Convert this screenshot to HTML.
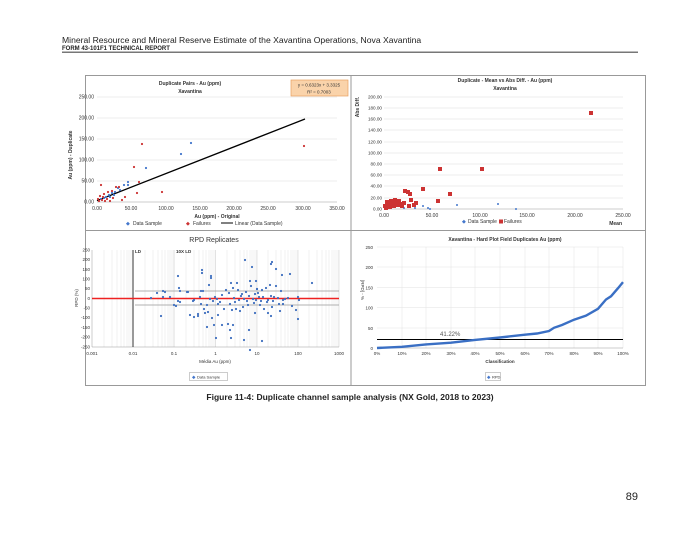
<!DOCTYPE html>
<html><head><meta charset="utf-8"><style>
body{margin:0;background:#fff;width:700px;height:541px;overflow:hidden;font-family:"Liberation Sans",sans-serif}
svg{position:absolute;left:0;top:0}
</style></head><body>
<svg width="700" height="541" viewBox="0 0 700 541" font-family="Liberation Sans, sans-serif">
<text x="62" y="43" font-size="8.6" fill="#222">Mineral Resource and Mineral Reserve Estimate of the Xavantina Operations, Nova Xavantina</text>
<text x="62" y="50" font-size="6" font-weight="bold" fill="#222">FORM 43-101F1 TECHNICAL REPORT</text>
<rect x="62" y="51.5" width="576" height="1.5" fill="#777"/>

<rect x="85.5" y="75.5" width="560" height="310" fill="#fff" stroke="#999"/>
<line x1="351" y1="76" x2="351" y2="385" stroke="#999"/>
<line x1="86" y1="230.5" x2="645" y2="230.5" stroke="#999"/>

<!-- Chart 1 -->
<g font-size="5" fill="#333">
<text x="190" y="85" font-weight="bold" text-anchor="middle">Duplicate Pairs - Au (ppm)</text>
<text x="190" y="93" font-weight="bold" text-anchor="middle">Xavantina</text>
<rect x="291" y="80" width="57" height="16" fill="#fad3aa" stroke="#e8a060" stroke-width="0.7"/>
<text x="319" y="86.5" text-anchor="middle" font-size="4.5">y = 0.6323x + 3.3325</text>
<text x="319" y="93.5" text-anchor="middle" font-size="4.5">R² = 0.7003</text>
<g stroke="#ddd" stroke-width="0.6">
<line x1="97" y1="97" x2="337" y2="97"/><line x1="97" y1="118" x2="337" y2="118"/><line x1="97" y1="139" x2="337" y2="139"/><line x1="97" y1="160" x2="337" y2="160"/><line x1="97" y1="181" x2="337" y2="181"/>
</g>
<line x1="97" y1="202" x2="337" y2="202" stroke="#999" stroke-width="0.6"/>
<g text-anchor="end"><text x="94" y="98.5">250.00</text><text x="94" y="119.5">200.00</text><text x="94" y="140.5">150.00</text><text x="94" y="161.5">100.00</text><text x="94" y="182.5">50.00</text><text x="94" y="203.5">0.00</text></g>
<g text-anchor="middle"><text x="97" y="210">0.00</text><text x="131" y="210">50.00</text><text x="166" y="210">100.00</text><text x="200" y="210">150.00</text><text x="234" y="210">200.00</text><text x="268" y="210">250.00</text><text x="303" y="210">300.00</text><text x="337" y="210">350.00</text></g>
<text x="217" y="218" text-anchor="middle" font-weight="bold">Au (ppm) - Original</text>
<text transform="translate(72,155) rotate(-90)" text-anchor="middle" font-weight="bold">Au (ppm) - Duplicate</text>
<text x="126" y="225" fill="#4477cc">◆</text><text x="133" y="225">Data Sample</text>
<text x="186" y="225" fill="#cc3333">◆</text><text x="193" y="225">Failures</text>
<line x1="221" y1="223" x2="233" y2="223" stroke="#000" stroke-width="1"/><text x="235" y="225">Linear (Data Sample)</text>
<line x1="97" y1="200.6" x2="305" y2="119" stroke="#000" stroke-width="1.3"/>
<g fill="#4477cc">
<circle cx="191" cy="143" r="1.1"/><circle cx="181" cy="154" r="1.1"/><circle cx="146" cy="168" r="1.1"/><circle cx="128" cy="182" r="1.1"/><circle cx="124" cy="185" r="1.1"/><circle cx="128" cy="185" r="1.1"/><circle cx="118" cy="188" r="1.1"/><circle cx="115" cy="192" r="1.1"/><circle cx="112" cy="193" r="1.1"/><circle cx="120" cy="190" r="1.1"/><circle cx="109" cy="195" r="1.1"/><circle cx="106" cy="197" r="1.1"/><circle cx="104" cy="198" r="1.1"/><circle cx="101" cy="199" r="1.1"/><circle cx="110" cy="197" r="1.1"/><circle cx="114" cy="195" r="1.1"/>
</g>
<g fill="#cc3333">
<circle cx="142" cy="144" r="1.1"/><circle cx="304" cy="146" r="1.1"/><circle cx="134" cy="167" r="1.1"/><circle cx="101" cy="185" r="1.1"/><circle cx="139" cy="182" r="1.1"/><circle cx="162" cy="192" r="1.1"/><circle cx="137" cy="193" r="1.1"/><circle cx="122" cy="200" r="1.1"/><circle cx="125" cy="197" r="1.1"/><circle cx="116" cy="187" r="1.1"/><circle cx="119" cy="187" r="1.1"/><circle cx="112" cy="191" r="1.1"/><circle cx="108" cy="192" r="1.1"/><circle cx="104" cy="194" r="1.1"/><circle cx="100" cy="196" r="1.1"/><circle cx="98" cy="199" r="1.1"/><circle cx="99" cy="201" r="1.1"/><circle cx="102" cy="200" r="1.1"/><circle cx="105" cy="201" r="1.1"/><circle cx="107" cy="199" r="1.1"/><circle cx="110" cy="201" r="1.1"/><circle cx="103" cy="197" r="1.1"/><circle cx="113" cy="198" r="1.1"/>
</g>
</g>

<!-- Chart 2 -->
<g font-size="5" fill="#333">
<text x="505" y="82" font-weight="bold" text-anchor="middle">Duplicate - Mean vs Abs Diff. - Au (ppm)</text>
<text x="505" y="90" font-weight="bold" text-anchor="middle">Xavantina</text>
<g stroke="#ddd" stroke-width="0.6">
<line x1="384" y1="97" x2="623" y2="97"/><line x1="384" y1="108" x2="623" y2="108"/><line x1="384" y1="119" x2="623" y2="119"/><line x1="384" y1="130" x2="623" y2="130"/><line x1="384" y1="142" x2="623" y2="142"/><line x1="384" y1="153" x2="623" y2="153"/><line x1="384" y1="164" x2="623" y2="164"/><line x1="384" y1="175" x2="623" y2="175"/><line x1="384" y1="186" x2="623" y2="186"/><line x1="384" y1="198" x2="623" y2="198"/>
</g>
<line x1="384" y1="209" x2="623" y2="209" stroke="#999" stroke-width="0.6"/>
<g text-anchor="end" font-size="4.6"><text x="382" y="98.5">200.00</text><text x="382" y="109.5">180.00</text><text x="382" y="120.5">160.00</text><text x="382" y="131.5">140.00</text><text x="382" y="143.5">120.00</text><text x="382" y="154.5">100.00</text><text x="382" y="165.5">80.00</text><text x="382" y="176.5">60.00</text><text x="382" y="187.5">40.00</text><text x="382" y="199.5">20.00</text><text x="382" y="210.5">0.00</text></g>
<g text-anchor="middle"><text x="384" y="217">0.00</text><text x="432" y="217">50.00</text><text x="480" y="217">100.00</text><text x="527" y="217">150.00</text><text x="575" y="217">200.00</text><text x="623" y="217">250.00</text></g>
<text transform="translate(359,107) rotate(-90)" text-anchor="middle" font-weight="bold">Abs Diff.</text>
<text x="462" y="223" fill="#4477cc">◆</text><text x="468" y="223">Data Sample</text>
<rect x="499" y="219.5" width="4" height="4" fill="#cc3333"/><text x="504" y="223">Failures</text>
<text x="622" y="225" text-anchor="end" font-weight="bold">Mean</text>
<g fill="#4477cc">
<circle cx="457" cy="205" r="1"/><circle cx="498" cy="204" r="1"/><circle cx="516" cy="209" r="1"/><circle cx="423" cy="206" r="1"/><circle cx="428" cy="208" r="1"/><circle cx="430" cy="209" r="1"/><circle cx="415" cy="208" r="1"/><circle cx="410" cy="207" r="1"/><circle cx="404" cy="208" r="1"/>
</g>
<g fill="#cc3333">
<rect x="589" y="111" width="4" height="4"/><rect x="438" y="167" width="4" height="4"/><rect x="480" y="167" width="4" height="4"/><rect x="421" y="187" width="4" height="4"/><rect x="448" y="192" width="4" height="4"/><rect x="436" y="199" width="4" height="4"/><rect x="403" y="189" width="4" height="4"/><rect x="406" y="190" width="4" height="4"/><rect x="408" y="192" width="4" height="4"/><rect x="412" y="203" width="4" height="4"/><rect x="407" y="204" width="4" height="4"/><rect x="414" y="201" width="4" height="4"/><rect x="409" y="198" width="4" height="4"/>
<rect x="384" y="206" width="4" height="4"/><rect x="386" y="203" width="4" height="4"/><rect x="388" y="205" width="4" height="4"/><rect x="390" y="202" width="4" height="4"/><rect x="392" y="204" width="4" height="4"/><rect x="394" y="201" width="4" height="4"/><rect x="396" y="203" width="4" height="4"/><rect x="398" y="202" width="4" height="4"/><rect x="400" y="204" width="4" height="4"/><rect x="402" y="201" width="4" height="4"/><rect x="385" y="200" width="4" height="4"/><rect x="389" y="199" width="4" height="4"/><rect x="393" y="198" width="4" height="4"/><rect x="397" y="199" width="4" height="4"/><rect x="383" y="204" width="4" height="4"/>
</g>
</g>

<!-- Chart 3 -->
<g font-size="4.5" fill="#333">
<text x="214" y="242" font-size="7" text-anchor="middle" fill="#333">RPD Replicates</text>
<g stroke="#e4e4e4" stroke-width="0.5">
<line x1="104" y1="250" x2="104" y2="347"/><line x1="112" y1="250" x2="112" y2="347"/><line x1="117" y1="250" x2="117" y2="347"/><line x1="121" y1="250" x2="121" y2="347"/><line x1="124" y1="250" x2="124" y2="347"/><line x1="127" y1="250" x2="127" y2="347"/><line x1="129" y1="250" x2="129" y2="347"/><line x1="131" y1="250" x2="131" y2="347"/>
<line x1="145" y1="250" x2="145" y2="347"/><line x1="153" y1="250" x2="153" y2="347"/><line x1="158" y1="250" x2="158" y2="347"/><line x1="162" y1="250" x2="162" y2="347"/><line x1="165" y1="250" x2="165" y2="347"/><line x1="168" y1="250" x2="168" y2="347"/><line x1="170" y1="250" x2="170" y2="347"/><line x1="172" y1="250" x2="172" y2="347"/>
<line x1="186" y1="250" x2="186" y2="347"/><line x1="194" y1="250" x2="194" y2="347"/><line x1="199" y1="250" x2="199" y2="347"/><line x1="203" y1="250" x2="203" y2="347"/><line x1="206" y1="250" x2="206" y2="347"/><line x1="209" y1="250" x2="209" y2="347"/><line x1="211" y1="250" x2="211" y2="347"/><line x1="213" y1="250" x2="213" y2="347"/><line x1="215" y1="250" x2="215" y2="347"/>
<line x1="227" y1="250" x2="227" y2="347"/><line x1="235" y1="250" x2="235" y2="347"/><line x1="240" y1="250" x2="240" y2="347"/><line x1="244" y1="250" x2="244" y2="347"/><line x1="247" y1="250" x2="247" y2="347"/><line x1="250" y1="250" x2="250" y2="347"/><line x1="252" y1="250" x2="252" y2="347"/><line x1="254" y1="250" x2="254" y2="347"/><line x1="256" y1="250" x2="256" y2="347"/>
<line x1="268" y1="250" x2="268" y2="347"/><line x1="276" y1="250" x2="276" y2="347"/><line x1="281" y1="250" x2="281" y2="347"/><line x1="285" y1="250" x2="285" y2="347"/><line x1="288" y1="250" x2="288" y2="347"/><line x1="291" y1="250" x2="291" y2="347"/><line x1="293" y1="250" x2="293" y2="347"/><line x1="295" y1="250" x2="295" y2="347"/><line x1="297" y1="250" x2="297" y2="347"/>
<line x1="309" y1="250" x2="309" y2="347"/><line x1="317" y1="250" x2="317" y2="347"/><line x1="322" y1="250" x2="322" y2="347"/><line x1="326" y1="250" x2="326" y2="347"/><line x1="329" y1="250" x2="329" y2="347"/><line x1="332" y1="250" x2="332" y2="347"/><line x1="334" y1="250" x2="334" y2="347"/><line x1="336" y1="250" x2="336" y2="347"/><line x1="338" y1="250" x2="338" y2="347"/>
<line x1="174" y1="250" x2="174" y2="347" stroke="#bbb"/><line x1="215.5" y1="250" x2="215.5" y2="347" stroke="#ccc"/><line x1="257" y1="250" x2="257" y2="347" stroke="#ccc"/><line x1="298" y1="250" x2="298" y2="347" stroke="#ccc"/><line x1="339" y1="250" x2="339" y2="347" stroke="#ccc"/>
</g>
<line x1="92" y1="347" x2="339" y2="347" stroke="#999" stroke-width="0.5"/>
<line x1="92" y1="250" x2="92" y2="347" stroke="#999" stroke-width="0.5"/>
<line x1="133" y1="250" x2="133" y2="347" stroke="#333" stroke-width="1"/>
<text x="135" y="253" font-weight="bold">LD</text><text x="176" y="253" font-weight="bold">10X LD</text>
<line x1="135" y1="291" x2="339" y2="291" stroke="#999" stroke-width="0.7"/>
<line x1="135" y1="305" x2="339" y2="305" stroke="#999" stroke-width="0.7"/>
<line x1="92" y1="298.5" x2="339" y2="298.5" stroke="#ee2222" stroke-width="1.6"/>
<g text-anchor="end"><text x="90" y="251.5">250</text><text x="90" y="261">200</text><text x="90" y="271">150</text><text x="90" y="280.5">100</text><text x="90" y="290">50</text><text x="90" y="300">0</text><text x="90" y="309.5">-50</text><text x="90" y="319">-100</text><text x="90" y="329">-150</text><text x="90" y="338.5">-200</text><text x="90" y="348.5">-250</text></g>
<g text-anchor="middle"><text x="92" y="355">0.001</text><text x="133" y="355">0.01</text><text x="174" y="355">0.1</text><text x="215.5" y="355">1</text><text x="257" y="355">10</text><text x="298" y="355">100</text><text x="339" y="355">1000</text></g>
<text x="215" y="363" text-anchor="middle">Média Au (ppm)</text>
<text transform="translate(78,298) rotate(-90)" text-anchor="middle">RPD (%)</text>
<rect x="189.5" y="372.5" width="38" height="8" fill="#fff" stroke="#aaa" stroke-width="0.6"/>
<text x="192" y="378.5" fill="#4477cc">◆</text><text x="197" y="378.5" font-size="4">Data Sample</text>
<g fill="#3f6fbf">
<circle cx="151" cy="298" r="1.1"/><circle cx="163" cy="297" r="1.1"/><circle cx="157" cy="293" r="1.1"/><circle cx="163" cy="291" r="1.1"/><circle cx="165" cy="292" r="1.1"/><circle cx="161" cy="316" r="1.1"/><circle cx="170" cy="297" r="1.1"/><circle cx="174" cy="305" r="1.1"/><circle cx="176" cy="306" r="1.1"/><circle cx="178" cy="276" r="1.1"/><circle cx="179" cy="288" r="1.1"/><circle cx="178" cy="301" r="1.1"/><circle cx="180" cy="302" r="1.1"/><circle cx="188" cy="292" r="1.1"/><circle cx="190" cy="315" r="1.1"/><circle cx="194" cy="300" r="1.1"/><circle cx="198" cy="314" r="1.1"/><circle cx="200" cy="297" r="1.1"/><circle cx="201" cy="304" r="1.1"/><circle cx="202" cy="273" r="1.1"/><circle cx="203" cy="291" r="1.1"/><circle cx="204" cy="309" r="1.1"/><circle cx="205" cy="313" r="1.1"/><circle cx="207" cy="305" r="1.1"/><circle cx="208" cy="312" r="1.1"/><circle cx="209" cy="285" r="1.1"/><circle cx="210" cy="299" r="1.1"/><circle cx="211" cy="278" r="1.1"/><circle cx="212" cy="318" r="1.1"/><circle cx="213" cy="301" r="1.1"/><circle cx="214" cy="325" r="1.1"/><circle cx="215" cy="297" r="1.1"/><circle cx="217" cy="299" r="1.1"/><circle cx="218" cy="304" r="1.1"/><circle cx="220" cy="302" r="1.1"/><circle cx="222" cy="295" r="1.1"/><circle cx="224" cy="309" r="1.1"/><circle cx="226" cy="290" r="1.1"/><circle cx="228" cy="324" r="1.1"/><circle cx="229" cy="293" r="1.1"/><circle cx="230" cy="304" r="1.1"/><circle cx="231" cy="283" r="1.1"/><circle cx="232" cy="310" r="1.1"/><circle cx="233" cy="288" r="1.1"/><circle cx="234" cy="298" r="1.1"/><circle cx="235" cy="302" r="1.1"/><circle cx="236" cy="309" r="1.1"/><circle cx="237" cy="283" r="1.1"/><circle cx="238" cy="290" r="1.1"/><circle cx="239" cy="300" r="1.1"/><circle cx="240" cy="311" r="1.1"/><circle cx="241" cy="296" r="1.1"/><circle cx="242" cy="294" r="1.1"/><circle cx="243" cy="307" r="1.1"/><circle cx="244" cy="299" r="1.1"/><circle cx="245" cy="260" r="1.1"/><circle cx="246" cy="292" r="1.1"/><circle cx="247" cy="301" r="1.1"/><circle cx="248" cy="305" r="1.1"/><circle cx="249" cy="296" r="1.1"/><circle cx="250" cy="281" r="1.1"/><circle cx="251" cy="286" r="1.1"/><circle cx="252" cy="267" r="1.1"/><circle cx="253" cy="299" r="1.1"/><circle cx="254" cy="303" r="1.1"/><circle cx="255" cy="294" r="1.1"/><circle cx="256" cy="300" r="1.1"/><circle cx="257" cy="289" r="1.1"/><circle cx="258" cy="293" r="1.1"/><circle cx="259" cy="297" r="1.1"/><circle cx="260" cy="305" r="1.1"/><circle cx="261" cy="301" r="1.1"/><circle cx="262" cy="290" r="1.1"/><circle cx="263" cy="297" r="1.1"/><circle cx="264" cy="309" r="1.1"/><circle cx="266" cy="288" r="1.1"/><circle cx="267" cy="302" r="1.1"/><circle cx="268" cy="300" r="1.1"/><circle cx="270" cy="285" r="1.1"/><circle cx="271" cy="296" r="1.1"/><circle cx="272" cy="307" r="1.1"/><circle cx="273" cy="301" r="1.1"/><circle cx="274" cy="297" r="1.1"/><circle cx="276" cy="286" r="1.1"/><circle cx="278" cy="298" r="1.1"/><circle cx="279" cy="304" r="1.1"/><circle cx="281" cy="291" r="1.1"/><circle cx="283" cy="304" r="1.1"/><circle cx="283" cy="300" r="1.1"/><circle cx="285" cy="299" r="1.1"/><circle cx="282" cy="275" r="1.1"/><circle cx="276" cy="269" r="1.1"/><circle cx="272" cy="262" r="1.1"/><circle cx="271" cy="264" r="1.1"/><circle cx="256" cy="281" r="1.1"/><circle cx="257" cy="289" r="1.1"/><circle cx="255" cy="313" r="1.1"/><circle cx="262" cy="341" r="1.1"/><circle cx="250" cy="350" r="1.1"/><circle cx="249" cy="330" r="1.1"/><circle cx="230" cy="330" r="1.1"/><circle cx="233" cy="325" r="1.1"/><circle cx="222" cy="325" r="1.1"/><circle cx="218" cy="315" r="1.1"/><circle cx="211" cy="276" r="1.1"/><circle cx="202" cy="270" r="1.1"/><circle cx="201" cy="291" r="1.1"/><circle cx="198" cy="316" r="1.1"/><circle cx="194" cy="317" r="1.1"/><circle cx="180" cy="291" r="1.1"/><circle cx="187" cy="292" r="1.1"/><circle cx="296" cy="310" r="1.1"/><circle cx="292" cy="306" r="1.1"/><circle cx="288" cy="298" r="1.1"/><circle cx="298" cy="297" r="1.1"/><circle cx="312" cy="283" r="1.1"/><circle cx="299" cy="300" r="1.1"/><circle cx="298" cy="319" r="1.1"/><circle cx="290" cy="274" r="1.1"/><circle cx="280" cy="311" r="1.1"/><circle cx="271" cy="316" r="1.1"/><circle cx="268" cy="313" r="1.1"/><circle cx="244" cy="340" r="1.1"/><circle cx="231" cy="338" r="1.1"/><circle cx="216" cy="338" r="1.1"/><circle cx="207" cy="327" r="1.1"/><circle cx="193" cy="301" r="1.1"/>
</g>
</g>

<!-- Chart 4 -->
<g font-size="4.5" fill="#333">
<text x="505" y="241" font-size="5" font-weight="bold" text-anchor="middle">Xavantina - Hard Plot Field Duplicates Au (ppm)</text>
<g stroke="#e2e2e2" stroke-width="0.5">
<line x1="377" y1="247" x2="623" y2="247"/><line x1="377" y1="267" x2="623" y2="267"/><line x1="377" y1="287.5" x2="623" y2="287.5"/><line x1="377" y1="307.5" x2="623" y2="307.5"/><line x1="377" y1="328" x2="623" y2="328"/>
<line x1="402" y1="247" x2="402" y2="348"/><line x1="426" y1="247" x2="426" y2="348"/><line x1="451" y1="247" x2="451" y2="348"/><line x1="475" y1="247" x2="475" y2="348"/><line x1="500" y1="247" x2="500" y2="348"/><line x1="525" y1="247" x2="525" y2="348"/><line x1="549" y1="247" x2="549" y2="348"/><line x1="574" y1="247" x2="574" y2="348"/><line x1="598" y1="247" x2="598" y2="348"/><line x1="623" y1="247" x2="623" y2="348"/>
</g>
<line x1="377" y1="348" x2="623" y2="348" stroke="#999" stroke-width="0.5"/>
<g text-anchor="end"><text x="373" y="249">250</text><text x="373" y="269">200</text><text x="373" y="289.5">150</text><text x="373" y="309.5">100</text><text x="373" y="330">50</text><text x="373" y="350">0</text></g>
<g text-anchor="middle"><text x="377" y="355">0%</text><text x="402" y="355">10%</text><text x="426" y="355">20%</text><text x="451" y="355">30%</text><text x="475" y="355">40%</text><text x="500" y="355">50%</text><text x="525" y="355">60%</text><text x="549" y="355">70%</text><text x="574" y="355">80%</text><text x="598" y="355">90%</text><text x="623" y="355">100%</text></g>
<text x="500" y="363" text-anchor="middle" font-weight="bold">Classification</text>
<text transform="translate(361,290) rotate(90)" text-anchor="middle">[RPD] - %</text>
<line x1="377" y1="339.5" x2="623" y2="339.5" stroke="#000" stroke-width="1"/>
<text x="440" y="336" font-size="6" fill="#555">41.22%</text>
<polyline fill="none" stroke="#3a6fc4" stroke-width="2.4" points="377,348 402,346.8 426,344.4 451,342.7 475,339.9 500,337.5 525,334.7 537,333.5 549,331 554,327.8 562,325 574,319.7 586,315.7 598,308.8 606,299.5 611,296.3 618,288.2 623,282.1"/>
<rect x="485.5" y="372.5" width="15" height="8" fill="#fff" stroke="#aaa" stroke-width="0.6"/>
<text x="487" y="378.5" fill="#4477cc">◆</text><text x="492" y="378.5" font-size="4">RPD</text>
</g>

<text x="350" y="400" font-size="8.5" font-weight="bold" text-anchor="middle" fill="#222">Figure 11-4: Duplicate channel sample analysis (NX Gold, 2018 to 2023)</text>
<text x="638" y="500" font-size="11" text-anchor="end" fill="#222">89</text>
</svg>
</body></html>
